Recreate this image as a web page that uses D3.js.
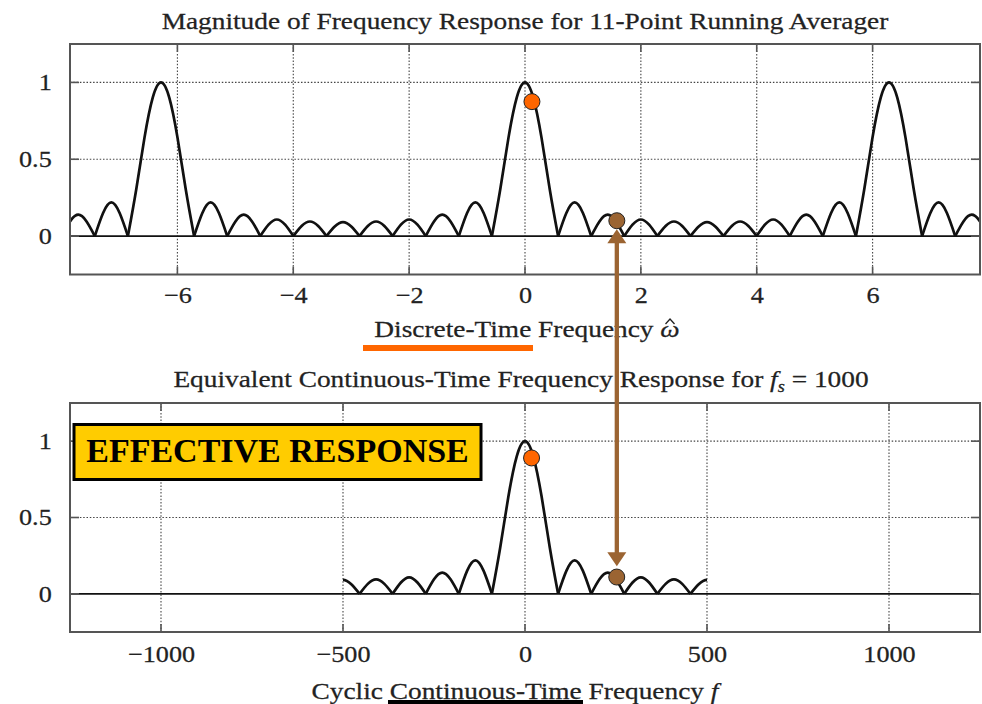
<!DOCTYPE html>
<html>
<head>
<meta charset="utf-8">
<script src="https://cdn.jsdelivr.net/npm/d3@7"></script>
<style>
  body { margin: 0; background: #fff; }
  svg { display: block; }
  text { font-family: "Liberation Serif", "Times New Roman", serif; fill: #222; }
</style>
</head>
<body>
<script>
// ---- data ----
// top panel: |H(w)| of the 11-point running averager, zeros and lobe tops
var topOmega = [-7.9968, -7.7112, -7.4256, -7.1400, -6.8544, -6.7116, -6.5688, -6.4260, -6.2832,
  -6.1404, -5.9976, -5.8548, -5.7120, -5.4264, -5.1408, -4.8552, -4.5696, -4.2840, -3.9984,
  -3.7128, -3.4272, -3.1416, -2.8560, -2.5704, -2.2848, -1.9992, -1.7136, -1.4280, -1.1424,
  -0.8568, -0.5712, -0.4284, -0.2856, -0.1428, 0, 0.1428, 0.2856, 0.4284, 0.5712, 0.8568,
  1.1424, 1.4280, 1.7136, 1.9992, 2.2848, 2.5704, 2.8560, 3.1416, 3.4272, 3.7128, 3.9984,
  4.2840, 4.5696, 4.8552, 5.1408, 5.4264, 5.7120, 5.8548, 5.9976, 6.1404, 6.2832, 6.4260,
  6.5688, 6.7116, 6.8544, 7.1400, 7.4256, 7.7112, 7.9968];
var topMag = [0, 0.139, 0, 0.219, 0, 0.302, 0.639, 0.901, 1,
  0.901, 0.639, 0.302, 0, 0.219, 0, 0.139, 0, 0.108, 0,
  0.095, 0, 0.091, 0, 0.095, 0, 0.108, 0, 0.139, 0,
  0.219, 0, 0.302, 0.639, 0.901, 1, 0.901, 0.639, 0.302, 0, 0.219,
  0, 0.139, 0, 0.108, 0, 0.095, 0, 0.091, 0, 0.095, 0,
  0.108, 0, 0.139, 0, 0.219, 0, 0.302, 0.639, 0.901, 1, 0.901,
  0.639, 0.302, 0, 0.219, 0, 0.139, 0];

// bottom panel: same response against f (Hz), fs = 1000
var botFreq = [-545.5, -500, -454.5, -409.1, -363.6, -318.2, -272.7, -227.3, -181.8, -136.4,
  -90.9, -68.2, -45.5, -22.7, 0, 22.7, 45.5, 68.2, 90.9, 136.4, 181.8, 227.3, 272.7,
  318.2, 363.6, 409.1, 454.5, 500, 545.5];
var botMag = [0, 0.091, 0, 0.095, 0, 0.108, 0, 0.139, 0, 0.219,
  0, 0.302, 0.639, 0.901, 1, 0.901, 0.639, 0.302, 0, 0.219, 0, 0.139, 0,
  0.108, 0, 0.095, 0, 0.091, 0];

var topTicks = [-6, -4, -2, 0, 2, 4, 6];
var botTicks = [-1000, -500, 0, 500, 1000];
var magTicks = [0, 0.5, 1];
var magLabels = ["0", "0.5", "1"];

// marker dots [x, magnitude]
var topDots = [[0.12, 0.875], [1.585, 0.10]];
var botDots = [[18, 0.89], [252, 0.11]];
var dotColors = ["#ff6600", "#9b6432"];

var svgWidth = 982, svgHeight = 704;
var sx = 1.14;           // the original gnuplot text is a bit wider than tall
var frameColor = "#555";

var svg = d3.select("body").append("svg")
  .attr("width", svgWidth)
  .attr("height", svgHeight);

var defs = svg.append("defs");

function minus(v) { return String(v).replace("-", "\u2212"); }

// split a series into lobes at its zeros
function lobes(xs, ys) {
  var out = [], cur = [];
  xs.forEach(function (x, i) {
    cur.push([x, ys[i]]);
    if (ys[i] === 0 && cur.length > 1) { out.push(cur); cur = [[x, 0]]; }
  });
  if (cur.length > 1) out.push(cur);
  return out;
}

function drawPanel(p) {
  var g = svg.append("g");
  var x = p.x, y = p.y;
  var x0 = x.range()[0], x1 = x.range()[1];
  var yb = y.range()[0], yt = y.range()[1];

  // dotted grid
  g.append("g").selectAll("line.vg")
    .data(p.xTicks)
    .enter().append("line")
    .attr("x1", d => x(d)).attr("x2", d => x(d))
    .attr("y1", yt).attr("y2", yb)
    .attr("stroke", "#444").attr("stroke-width", 1.1)
    .attr("stroke-dasharray", "1.5,1.8");

  g.append("g").selectAll("line.hg")
    .data(magTicks.filter(d => d !== 0))
    .enter().append("line")
    .attr("x1", x0).attr("x2", x1)
    .attr("y1", d => y(d)).attr("y2", d => y(d))
    .attr("stroke", "#444").attr("stroke-width", 1.1)
    .attr("stroke-dasharray", "1.5,1.8");

  // zero axis
  g.append("line")
    .attr("x1", x0).attr("x2", x1)
    .attr("y1", y(0)).attr("y2", y(0))
    .attr("stroke", "#111").attr("stroke-width", 1.6);

  // curve
  var clipId = "clip" + p.id;
  defs.append("clipPath").attr("id", clipId)
    .append("rect")
    .attr("x", x(p.clip[0])).attr("y", yt)
    .attr("width", x(p.clip[1]) - x(p.clip[0])).attr("height", yb - yt);

  var line = d3.line()
    .x(d => x(d[0]))
    .y(d => y(d[1]))
    .curve(d3.curveNatural);

  g.append("g").attr("clip-path", "url(#" + clipId + ")")
    .selectAll("path")
    .data(lobes(p.xs, p.ys))
    .enter().append("path")
    .attr("d", line)
    .attr("fill", "none")
    .attr("stroke", "#111")
    .attr("stroke-width", 2.7)
    .attr("stroke-linejoin", "round");

  // frame and inner tick marks
  g.append("rect")
    .attr("x", x0).attr("y", yt)
    .attr("width", x1 - x0).attr("height", yb - yt)
    .attr("fill", "none").attr("stroke", frameColor).attr("stroke-width", 2);

  var tm = g.append("g").attr("stroke", frameColor).attr("stroke-width", 1.6);
  p.xTicks.forEach(function (d) {
    tm.append("line").attr("x1", x(d)).attr("x2", x(d)).attr("y1", yt).attr("y2", yt + 8);
    tm.append("line").attr("x1", x(d)).attr("x2", x(d)).attr("y1", yb).attr("y2", yb - 8);
  });
  magTicks.forEach(function (d) {
    tm.append("line").attr("x1", x0).attr("x2", x0 + 9).attr("y1", y(d)).attr("y2", y(d));
    tm.append("line").attr("x1", x1).attr("x2", x1 - 9).attr("y1", y(d)).attr("y2", y(d));
  });

  // tick labels through d3 axes
  var bottomAxis = d3.axisBottom(x).tickValues(p.xTicks).tickSize(0)
    .tickPadding(p.xPad).tickFormat(minus);
  var ax = g.append("g").attr("transform", `translate(0, ${yb})`).call(bottomAxis);
  ax.select(".domain").remove();
  ax.selectAll("text")
    .attr("font-size", 23).attr("fill", "#222")
    .attr("stroke", "#222").attr("stroke-width", 0.25)
    .attr("font-family", "Liberation Serif, serif")
    .attr("transform", `scale(${sx},1)`);

  var leftAxis = d3.axisLeft(y).tickValues(magTicks).tickSize(0)
    .tickPadding(16).tickFormat((d, i) => magLabels[i]);
  var ay = g.append("g").attr("transform", `translate(${x0}, 0)`).call(leftAxis);
  ay.select(".domain").remove();
  ay.selectAll("text")
    .attr("font-size", 23).attr("fill", "#222")
    .attr("stroke", "#222").attr("stroke-width", 0.25)
    .attr("font-family", "Liberation Serif, serif")
    .attr("transform", `scale(${sx},1)`);

  return g;
}

function label(x, y, size) {
  return svg.append("text")
    .attr("transform", `translate(${x}, ${y}) scale(${sx},1)`)
    .attr("text-anchor", "middle")
    .attr("stroke", "#222").attr("stroke-width", 0.25)
    .attr("font-size", size);
}

var xTop = d3.scaleLinear().domain([-2.5 * Math.PI, 2.5 * Math.PI]).range([70, 980]);
var yTop = d3.scaleLinear().domain([-0.25, 1.25]).range([274.5, 44]);
var xBot = d3.scaleLinear().domain([-1250, 1250]).range([70, 980]);
var yBot = d3.scaleLinear().domain([-0.25, 1.25]).range([632, 403]);

drawPanel({ id: "top", x: xTop, y: yTop, xs: topOmega, ys: topMag, xTicks: topTicks,
  clip: [-2.5 * Math.PI, 2.5 * Math.PI], xPad: 12 });
drawPanel({ id: "bot", x: xBot, y: yBot, xs: botFreq, ys: botMag, xTicks: botTicks,
  clip: [-500, 500], xPad: 14 });

// titles and axis labels
label(525, 29, 24).text("Magnitude of Frequency Response for 11-Point Running Averager");

var xlX = 527, xlY = 337;
var xl = label(xlX, xlY, 24);
xl.append("tspan").text("Discrete-Time Frequency ");
xl.append("tspan").attr("font-style", "italic").text("\u03C9");

// hat over omega, drawn as a small stroke
var wIdx = xl.text().length - 1;
var wBox = xl.node().getExtentOfChar(wIdx);
var hatX = xlX + sx * (wBox.x + wBox.width / 2);
svg.append("path")
  .attr("d", `M${hatX - 4.5},${xlY - 13} L${hatX},${xlY - 18} L${hatX + 4.5},${xlY - 13}`)
  .attr("fill", "none").attr("stroke", "#222").attr("stroke-width", 1.3);

var t2 = label(521, 387, 24);
t2.append("tspan").text("Equivalent Continuous-Time Frequency Response for  ");
t2.append("tspan").attr("font-style", "italic").text("f");
t2.append("tspan").attr("font-style", "italic").attr("font-size", 16).attr("dy", 5).text("s");
t2.append("tspan").attr("dy", -5).text(" = 1000");

var xl2 = label(515, 699, 24);
xl2.append("tspan").text("Cyclic Continuous-Time Frequency  ");
xl2.append("tspan").attr("font-style", "italic").text("f");

// underline annotations
svg.append("rect").attr("x", 363).attr("y", 345).attr("width", 170).attr("height", 6)
  .attr("fill", "#ff6600");
svg.append("rect").attr("x", 388).attr("y", 700).attr("width", 195).attr("height", 5)
  .attr("fill", "#000");

// effective response box
svg.append("rect")
  .attr("x", 74).attr("y", 424.5).attr("width", 407).attr("height", 55)
  .attr("fill", "#ffcc00").attr("stroke", "#000").attr("stroke-width", 3);
svg.append("text")
  .attr("x", 277.5).attr("y", 461.5)
  .attr("text-anchor", "middle")
  .attr("font-size", 34).attr("font-weight", "bold")
  .style("fill", "#000")
  .text("EFFECTIVE RESPONSE");

// double arrow linking the two panels
var arrowColor = "#9b6432";
var ax0 = xTop(topDots[1][0]);
var tipTop = yTop(0.045), tipBot = yBot(0.18);
svg.append("line")
  .attr("x1", ax0).attr("x2", ax0)
  .attr("y1", tipTop + 12).attr("y2", tipBot - 12)
  .attr("stroke", arrowColor).attr("stroke-width", 4.3);
svg.append("path")
  .attr("d", `M${ax0},${tipTop} L${ax0 - 9.5},${tipTop + 14} L${ax0 + 9.5},${tipTop + 14} Z`)
  .attr("fill", arrowColor);
svg.append("path")
  .attr("d", `M${ax0},${tipBot} L${ax0 - 9.5},${tipBot - 14} L${ax0 + 9.5},${tipBot - 14} Z`)
  .attr("fill", arrowColor);

// dots
svg.append("g").selectAll("circle")
  .data(topDots)
  .enter().append("circle")
  .attr("cx", d => xTop(d[0]))
  .attr("cy", d => yTop(d[1]))
  .attr("r", 8)
  .attr("fill", (d, i) => dotColors[i])
  .attr("stroke", "#222").attr("stroke-width", 1);

svg.append("g").selectAll("circle")
  .data(botDots)
  .enter().append("circle")
  .attr("cx", d => xBot(d[0]))
  .attr("cy", d => yBot(d[1]))
  .attr("r", 8)
  .attr("fill", (d, i) => dotColors[i])
  .attr("stroke", "#222").attr("stroke-width", 1);
</script>
</body>
</html>
